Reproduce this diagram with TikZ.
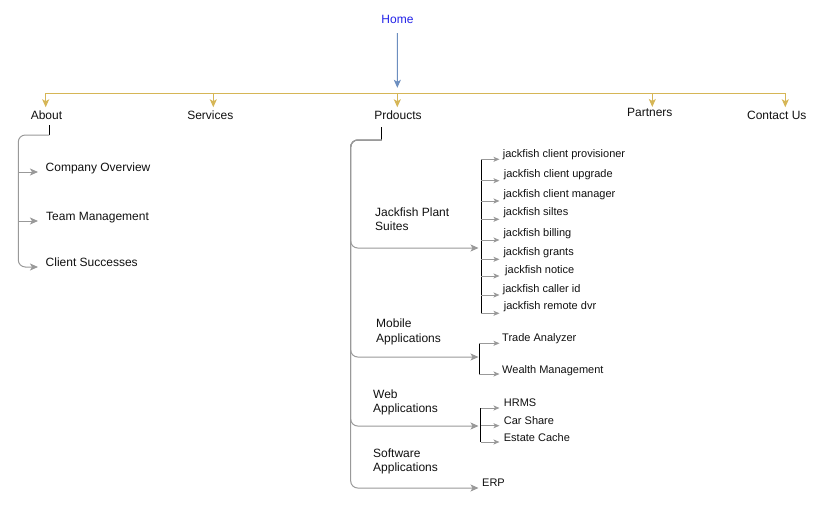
\documentclass[tikz,border=0pt]{standalone}
\usepackage{fontspec}
\setmainfont{Liberation Sans}
\usetikzlibrary{arrows.meta}
\definecolor{gold}{HTML}{D6B656}
\definecolor{steel}{HTML}{6C8EBF}
\definecolor{linkgray}{HTML}{999999}
\definecolor{homeblue}{HTML}{2222E8}
\definecolor{txt}{HTML}{111111}
\begin{document}
\begin{tikzpicture}[x=1pt,y=-1pt,
  toplabel/.style={font=\fontsize{12}{14.5}\selectfont, text=txt, inner sep=2pt, text height=8.6pt, text depth=2.5pt},
  leafbig/.style={font=\fontsize{12}{14.5}\selectfont, text=txt, inner sep=0pt, anchor=west, text height=8.6pt, text depth=2.5pt, yshift=-1.5pt},
  leafsmall/.style={font=\fontsize{11}{13}\selectfont, text=txt, inner sep=0pt, anchor=west, text height=7.9pt, text depth=2.3pt, yshift=-1.5pt},
  grouplabel/.style={font=\fontsize{12}{14.5}\selectfont, text=txt, inner sep=0pt, anchor=north west, align=left, yshift=-1pt},
  goldline/.style={draw=gold, line width=1pt},
  goldarrow/.style={draw=gold, line width=1pt, -{Stealth[length=8pt,width=7pt,inset=2pt,fill=gold]}},
  homearrow/.style={draw=steel, line width=1pt, -{Stealth[length=8pt,width=7pt,inset=2pt,fill=steel]}},
  stub/.style={draw=black, line width=1pt},
  vbar/.style={draw=black, line width=1pt},
  grayarrow/.style={draw=linkgray, line width=1pt, rounded corners=7pt, -{Stealth[length=8pt,width=7pt,inset=2pt,fill=linkgray]}},
  tinyarrow/.style={draw=linkgray, line width=1pt, -{Stealth[length=6pt,width=5pt,inset=1.5pt,fill=linkgray]}}
]
\useasboundingbox[fill=white] (0,0) rectangle (833,519);

% ---------- top level ----------
\node[toplabel, text=homeblue] (home) at (397.5,20) {Home};
\coordinate (hub) at (397.3,93.3);
\draw[homearrow, shorten <=5.5pt, shorten >=5.5pt] (home) -- (hub);

\node[toplabel] (about)    at (46.5,116)  {About};
\node[toplabel] (services) at (210.3,116) {Services};
\node[toplabel] (products) at (398,116)   {Prdoucts};
\node[toplabel] (partners) at (649.8,113.7) {Partners};
\node[toplabel] (contact)  at (776.8,116) {Contact Us};

\coordinate (bA) at (45.7,93.3);
\coordinate (bS) at (213.3,93.3);
\coordinate (bP) at (397.3,93.3);
\coordinate (bR) at (652.3,93.3);
\coordinate (bC) at (785.3,93.3);
\draw[goldline] (bA) -- (bC);
\draw[goldarrow] (bA) -- ([yshift=1pt]bA |- about.north);
\draw[goldarrow] (bS) -- ([yshift=1pt]bS |- services.north);
\draw[goldarrow] (bP) -- ([yshift=1pt]bP |- products.north);
\draw[goldarrow] (bR) -- ([yshift=-1pt]bR |- partners.north);
\draw[goldarrow] (bC) -- ([yshift=1pt]bC |- contact.north);

% ---------- About subtree ----------
\coordinate (aboutK) at (49.3,135);
\coordinate (aboutS) at (49.3,125);
\draw[stub] (aboutS) -- (aboutK);
\node[leafbig] (co) at (45.5,167) {Company Overview};
\node[leafbig] (tm) at (46,216)   {Team Management};
\node[leafbig] (cs) at (45.5,262) {Client Successes};
\coordinate (coA) at (38,172);
\coordinate (tmA) at (38,221);
\coordinate (csA) at (38,267);
\draw[grayarrow] (aboutK) -- (18.3,135) -- (18.3,267) -- (csA);
\draw[grayarrow] (18.3,172) -- (coA);
\draw[grayarrow] (18.3,221) -- (tmA);

% ---------- Products subtree ----------
\coordinate (prodS) at (381.5,127);
\coordinate (prodK) at (381.5,140);
\draw[stub] (prodS) -- (prodK);

\node[grouplabel] (gJ) at (375,206.4) {Jackfish Plant\\Suites};
\node[grouplabel] (gM) at (376,317.7) {Mobile\\Applications};
\node[grouplabel] (gW) at (373,388.4) {Web\\Applications};
\node[grouplabel] (gS) at (373,447.4) {Software\\Applications};

\coordinate (jT) at (478.5,248);
\coordinate (mT) at (478.5,357);
\coordinate (wT) at (478.5,426);
\coordinate (eT) at (478.5,488);
\draw[grayarrow] (prodK) -- (350.7,140) -- (350.7,248) -- (jT);
\draw[grayarrow] (prodK) -- (350.7,140) -- (350.7,357) -- (mT);
\draw[grayarrow] (prodK) -- (350.7,140) -- (350.7,426) -- (wT);
\draw[grayarrow] (prodK) -- (350.7,140) -- (350.7,488) -- (eT);

% Jackfish leaves
\coordinate (jTop) at (481,159.3);
\coordinate (jBot) at (481,313.3);
\draw[vbar] (jTop) -- (jBot);
\foreach \nm/\tx/\xx/\ty/\ay in {
  j1/{jackfish client provisioner}/502.7/152.7/159.3,
  j2/{jackfish client upgrade}/503.7/173.3/180.7,
  j3/{jackfish client manager}/503.3/193.3/201,
  j4/{jackfish siltes}/503.3/211/219.3,
  j5/{jackfish billing}/503.3/231.7/240,
  j6/{jackfish grants}/503.3/251/259.3,
  j7/{jackfish notice}/505/269/276,
  j8/{jackfish caller id}/502.7/288/295,
  j9/{jackfish remote dvr}/503.7/305/313.3}{
  \node[leafsmall] (\nm) at (\xx,\ty) {\tx};
  \coordinate (\nm a) at (481,\ay);
  \coordinate (\nm b) at (499.5,\ay);
  \draw[tinyarrow] (\nm a) -- (\nm b);
}

% Mobile leaves
\coordinate (mTop) at (479.3,343.3);
\coordinate (mBot) at (479.3,374);
\draw[vbar] (mTop) -- (mBot);
\node[leafsmall] (m1) at (502,337) {Trade Analyzer};
\node[leafsmall] (m2) at (502,369) {Wealth Management};
\coordinate (m1b) at (499.5,343.3);
\coordinate (m2b) at (499.5,374);
\draw[tinyarrow] (mTop) -- (m1b);
\draw[tinyarrow] (mBot) -- (m2b);

% Web leaves
\coordinate (wTop) at (480.7,408);
\coordinate (wMid) at (480.7,425.7);
\coordinate (wBot) at (480.7,442);
\draw[vbar] (wTop) -- (wBot);
\node[leafsmall] (w1) at (503.7,401.7) {HRMS};
\node[leafsmall] (w2) at (503.7,420)   {Car Share};
\node[leafsmall] (w3) at (503.7,437)   {Estate Cache};
\coordinate (w1b) at (499.5,408);
\coordinate (w2b) at (499.5,425.7);
\coordinate (w3b) at (499.5,442);
\draw[tinyarrow] (wTop) -- (w1b);
\draw[tinyarrow] (wMid) -- (w2b);
\draw[tinyarrow] (wBot) -- (w3b);

% Software leaf
\node[leafsmall] (erp) at (482,482) {ERP};
\end{tikzpicture}
\end{document}
